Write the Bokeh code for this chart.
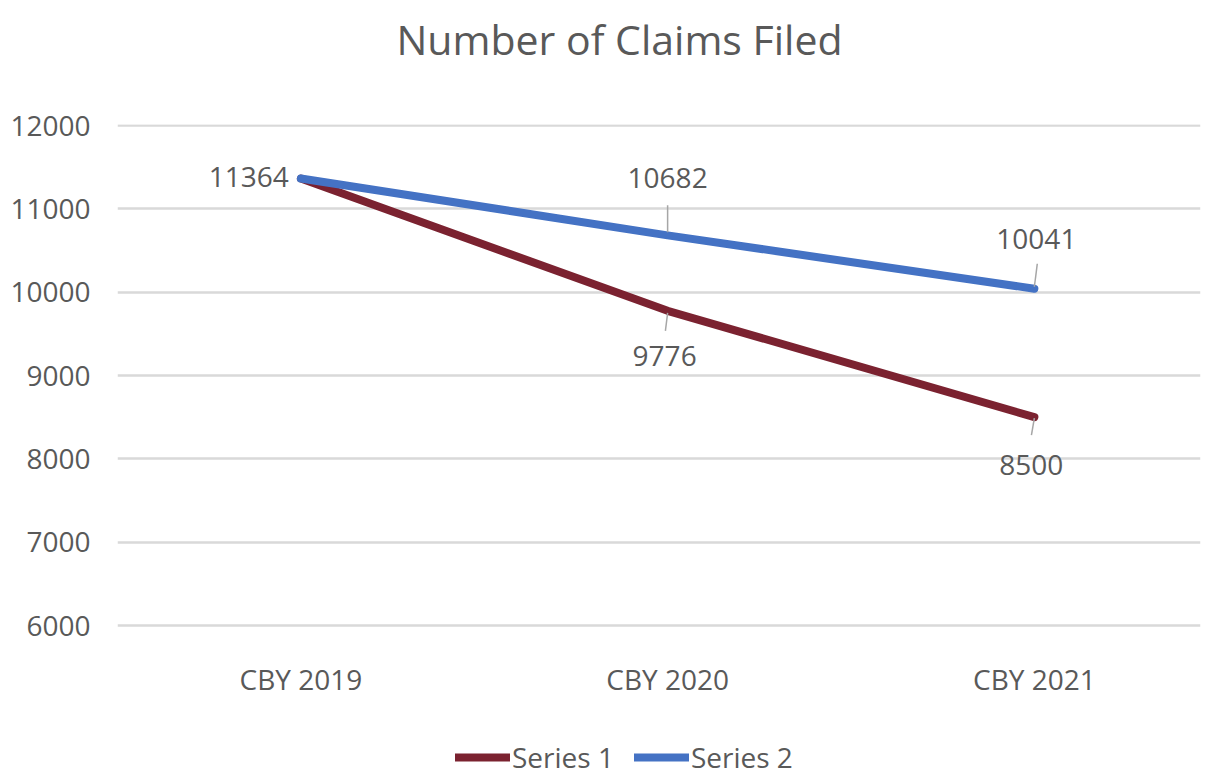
from bokeh.plotting import figure
from bokeh.models import Range1d, FixedTicker, Legend, LegendItem, ColumnDataSource
from bokeh.core.properties import value
from bokeh.embed import file_html
from bokeh.resources import INLINE

categories = ["CBY 2019", "CBY 2020", "CBY 2021"]
series1 = [11364, 9776, 8500]
series2 = [11364, 10682, 10041]
y_ticks = [6000, 7000, 8000, 9000, 10000, 11000, 12000]

FONT = "Open Sans"
TXT = "#595959"
C1 = "#7B2230"
C2 = "#4472C4"
GRID = "#D9D9D9"
LEAD = "#A6A6A6"

xs = list(range(len(categories)))

p = figure(width=1210, height=778, output_backend="svg", toolbar_location=None,
           x_range=Range1d(-0.5, 2.453), y_range=Range1d(4164, 12012),
           min_border_left=117, min_border_right=10, min_border_top=124,
           min_border_bottom=0, title="Number of Claims Filed")
p.outline_line_color = None
p.background_fill_color = "white"
p.border_fill_color = "white"

p.title.align = "left"
p.title.text_font = FONT
p.title.text_font_size = "41px"
p.title.text_font_style = "normal"
p.title.text_color = TXT
p.title.offset = 279
try:
    p.title.padding = dict(left=0, right=0, top=0, bottom=58)
    p.title.standoff = 0
except Exception:
    p.title.standoff = 72

p.xgrid.grid_line_color = None
p.ygrid.grid_line_color = GRID
p.ygrid.grid_line_width = 2.5
p.yaxis.ticker = FixedTicker(ticks=y_ticks)
p.xaxis.ticker = FixedTicker(ticks=xs)
p.xaxis.major_label_overrides = {i: c for i, c in zip(xs, categories)}

for ax in (p.xaxis, p.yaxis):
    ax.axis_line_color = None
    ax.major_tick_line_color = None
    ax.minor_tick_line_color = None
    ax.major_tick_out = 0
    ax.major_tick_in = 0
    ax.major_label_text_font = FONT
    ax.major_label_text_font_size = "28px"
    ax.major_label_text_color = TXT
p.yaxis.major_label_standoff = 27
p.xaxis.major_label_standoff = -119

r1 = p.line(xs, series1, line_width=8, line_color=C1, line_join="round", line_cap="round")
r2 = p.line(xs, series2, line_width=8, line_color=C2, line_join="round", line_cap="round")

# leader lines (offsets in data units)
lead = ColumnDataSource(dict(
    x0=[xs[1], xs[2], xs[1], xs[2]],
    y0=[series2[1] + 36, series2[2] + 24, series1[1] - 24, series1[2] - 12],
    x1=[xs[1], xs[2] + 0.008, xs[1] - 0.006, xs[2] - 0.008],
    y1=[series2[1] + 360, series2[2] + 300, series1[1] - 240, series1[2] - 216],
))
p.segment(x0="x0", y0="y0", x1="x1", y1="y1", source=lead, line_color=LEAD, line_width=1.5)

lab = ColumnDataSource(dict(
    x=[xs[0], xs[1], xs[2], xs[1], xs[2]],
    y=[series2[0], series2[1], series2[2], series1[1], series1[2]],
    t=[str(series2[0]), str(series2[1]), str(series2[2]), str(series1[1]), str(series1[2])],
    xo=[-12, 0, 2, -3, -3],
    yo=[-2, -57, -50, 45, 48],
    al=["right", "center", "center", "center", "center"],
))
p.text(x="x", y="y", text="t", x_offset="xo", y_offset="yo", text_align="al",
       text_baseline="middle", source=lab, text_font=value(FONT),
       text_font_size="28px", text_color=TXT)

legend = Legend(items=[LegendItem(label="Series 1", renderers=[r1]),
                       LegendItem(label="Series 2", renderers=[r2])],
                orientation="horizontal", location=(338, 2))
legend.label_text_font = FONT
legend.label_text_font_size = "28px"
legend.label_text_color = TXT
legend.glyph_width = 55
legend.label_standoff = 2
legend.spacing = 20
legend.border_line_color = None
legend.background_fill_alpha = 0
legend.padding = 0
legend.margin = 0
p.add_layout(legend, "center")

open("out.html", "w").write(file_html(p, INLINE))
